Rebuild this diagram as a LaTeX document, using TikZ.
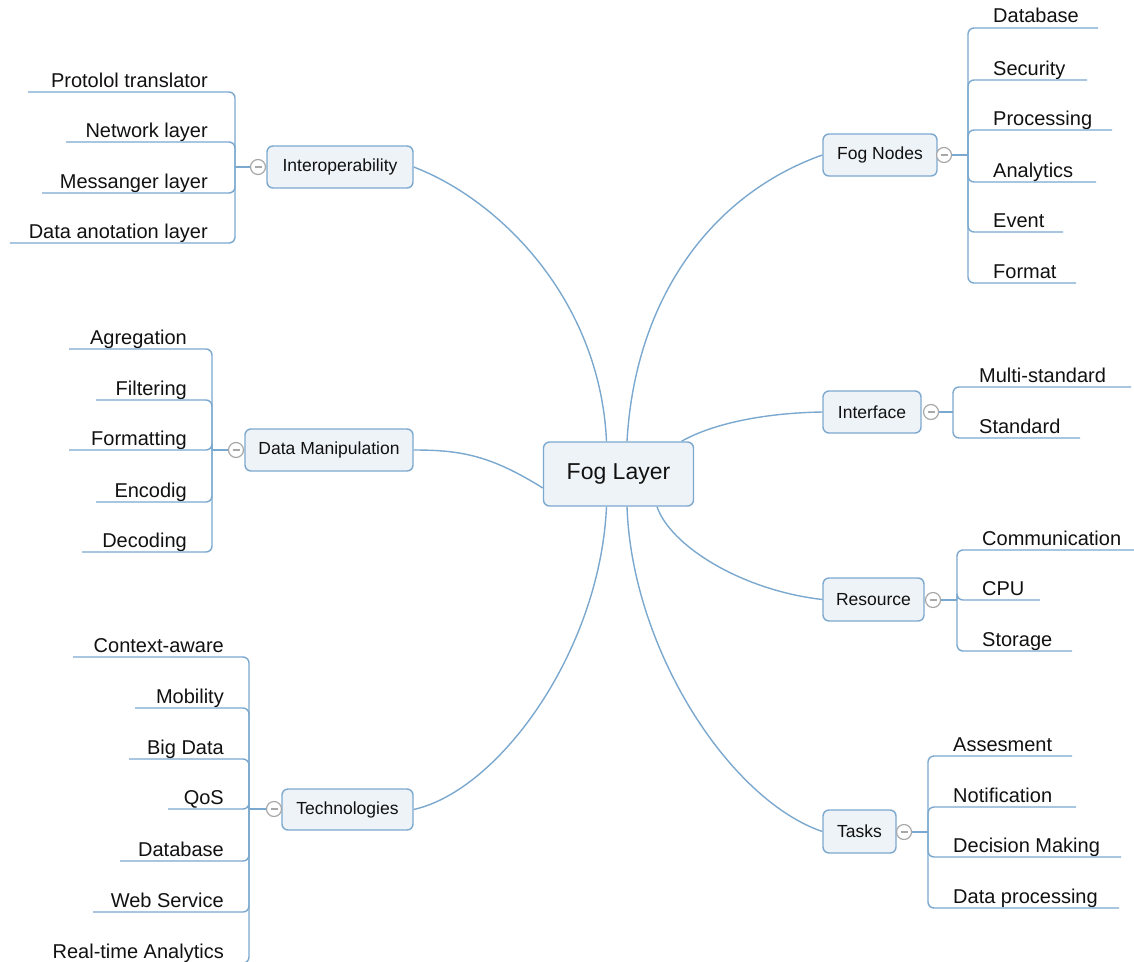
\documentclass[tikz,border=0pt]{standalone}
\usepackage{fontspec}
\setmainfont{Liberation Sans}
\definecolor{linec}{HTML}{7AA8CE}
\definecolor{boxc}{HTML}{7DA9CF}
\definecolor{boxfill}{HTML}{EEF3F8}
\definecolor{foldc}{HTML}{A8A8A8}
\definecolor{txt}{HTML}{111111}
\tikzset{
  conn/.style={draw=linec, line width=1.4pt},
  spine/.style={conn, rounded corners=6pt},
  topic/.style={draw=boxc, fill=boxfill, rounded corners=6pt, line width=1.4pt,
    font=\fontsize{17.5}{20}\selectfont, text=txt, inner sep=0pt},
  central/.style={topic, font=\fontsize{23}{26}\selectfont},
  leafl/.style={anchor=base east, inner sep=0pt, font=\fontsize{20}{22}\selectfont, text=txt},
  leafr/.style={anchor=base west, inner sep=0pt, font=\fontsize{20}{22}\selectfont, text=txt},
  fold/.style={circle, draw=foldc, fill=white, line width=1.2pt, minimum size=15pt, inner sep=0pt,
    path picture={\draw[foldc, line width=1.1pt] ([xshift=-3.5pt]path picture bounding box.center) -- ([xshift=3.5pt]path picture bounding box.center);}}
}
\begin{document}
\begin{tikzpicture}[x=1pt, y=-1pt]
\useasboundingbox (0,0) rectangle (1134,961);

% central topic
\node[central, minimum width=150pt, minimum height=64pt] (fog) at (618.5,474) {Fog Layer};

% main topics
\node[topic, minimum width=146pt, minimum height=42pt] (interop) at (340,167) {Interoperability};
\node[topic, minimum width=168pt, minimum height=42pt] (dm) at (329,450) {Data Manipulation};
\node[topic, minimum width=131pt, minimum height=41pt] (tech) at (347.5,809.5) {Technologies};
\node[topic, minimum width=114pt, minimum height=42pt] (fogn) at (880,155) {Fog Nodes};
\node[topic, minimum width=98pt, minimum height=42pt] (intf) at (872,412) {Interface};
\node[topic, minimum width=101pt, minimum height=43pt] (res) at (873.5,599.5) {Resource};
\node[topic, minimum width=73pt, minimum height=43pt] (tasks) at (859.5,831.5) {Tasks};

% connectors from the central topic
\draw[conn] ([xshift=-12pt]fog.north) .. controls (600,300) and (500,200) .. (interop.east);
\draw[conn] ([xshift=8.5pt]fog.north) .. controls (635,300) and (710,195) .. (fogn.west);
\draw[conn] ([yshift=-14pt]fog.west) .. controls (490,455) and (460,450) .. (dm.east);
\draw[conn] ([xshift=63pt]fog.north) .. controls (710,425) and (760,413) .. (intf.west);
\draw[conn] ([xshift=38.5pt]fog.south) .. controls (670,545) and (740,590) .. (res.west);
\draw[conn] ([xshift=8.5pt]fog.south) .. controls (632,650) and (730,800) .. (tasks.west);
\draw[conn] ([xshift=-12pt]fog.south) .. controls (600,650) and (500,790) .. (tech.east);

% junctions
\coordinate (jinterop) at (235,167);
\coordinate (jdm) at (212,450);
\coordinate (jtech) at (249,809);
\coordinate (jfogn) at (968,155);
\coordinate (jintf) at (953,412);
\coordinate (jres) at (957,600);
\coordinate (jtasks) at (928,832);

% Interoperability leaves
\foreach \n/\y/\e/\t in {1/92/28/Protolol translator, 2/142/66/Network layer, 3/193/42/Messanger layer, 4/243/10/Data anotation layer}{
  \node[leafl] (li\n) at (208,\y-5) {\t};
  \coordinate (ei\n) at (\e,\y);
  \draw[spine] (jinterop) |- (ei\n);
}
% Data Manipulation leaves
\foreach \n/\y/\e/\t in {1/349/69/Agregation, 2/400/96/Filtering, 3/450/69/Formatting, 4/502/96/Encodig, 5/552/82/Decoding}{
  \node[leafl] (ld\n) at (187,\y-5) {\t};
  \coordinate (ed\n) at (\e,\y);
  \draw[spine] (jdm) |- (ed\n);
}
% Technologies leaves
\foreach \n/\y/\e/\t in {1/657/73/Context-aware, 2/708/135/Mobility, 3/759/129/Big Data, 4/809/168/QoS, 5/861/120/Database, 6/912/93/Web Service, 7/963/40/Real-time Analytics}{
  \node[leafl] (lt\n) at (224,\y-5) {\t};
  \coordinate (et\n) at (\e,\y);
  \draw[spine] (jtech) |- (et\n);
}
% Fog Nodes leaves
\foreach \n/\y/\e/\t in {1/28/1098/Database, 2/80/1087/Security, 3/130/1112/Processing, 4/182/1096/Analytics, 5/232/1063/Event, 6/283/1076/Format}{
  \node[leafr] (lf\n) at (993,\y-5) {\t};
  \coordinate (ef\n) at (\e,\y);
  \draw[spine] (jfogn) |- (ef\n);
}
% Interface leaves
\foreach \n/\y/\e/\t in {1/387/1131/Multi-standard, 2/438/1080/Standard}{
  \node[leafr] (ln\n) at (979,\y-5) {\t};
  \coordinate (en\n) at (\e,\y);
  \draw[spine] (jintf) |- (en\n);
}
% Resource leaves
\foreach \n/\y/\e/\t in {1/550/1134/Communication, 2/600/1040/CPU, 3/651/1072/Storage}{
  \node[leafr] (lr\n) at (982,\y-5) {\t};
  \coordinate (er\n) at (\e,\y);
  \draw[spine] (jres) |- (er\n);
}
% Tasks leaves
\foreach \n/\y/\e/\t in {1/756/1072/Assesment, 2/807/1076/Notification, 3/857/1121/Decision Making, 4/908/1119/Data processing}{
  \node[leafr] (lk\n) at (953,\y-5) {\t};
  \coordinate (ek\n) at (\e,\y);
  \draw[spine] (jtasks) |- (ek\n);
}

% fold markers (drawn over the stubs)
\node[fold] (finterop) at (258,167) {};
\node[fold] (fdm) at (236,450) {};
\node[fold] (ftech) at (274,809) {};
\node[fold] (ffogn) at (944,155) {};
\node[fold] (fintf) at (931,412) {};
\node[fold] (fres) at (933,600) {};
\node[fold] (ftasks) at (904,832) {};

\draw[conn] (finterop.west) -- (jinterop);
\draw[conn] (fdm.west) -- (jdm);
\draw[conn] (ftech.west) -- (jtech);
\draw[conn] (ffogn.east) -- (jfogn);
\draw[conn] (fintf.east) -- (jintf);
\draw[conn] (fres.east) -- (jres);
\draw[conn] (ftasks.east) -- (jtasks);
\end{tikzpicture}
\end{document}
